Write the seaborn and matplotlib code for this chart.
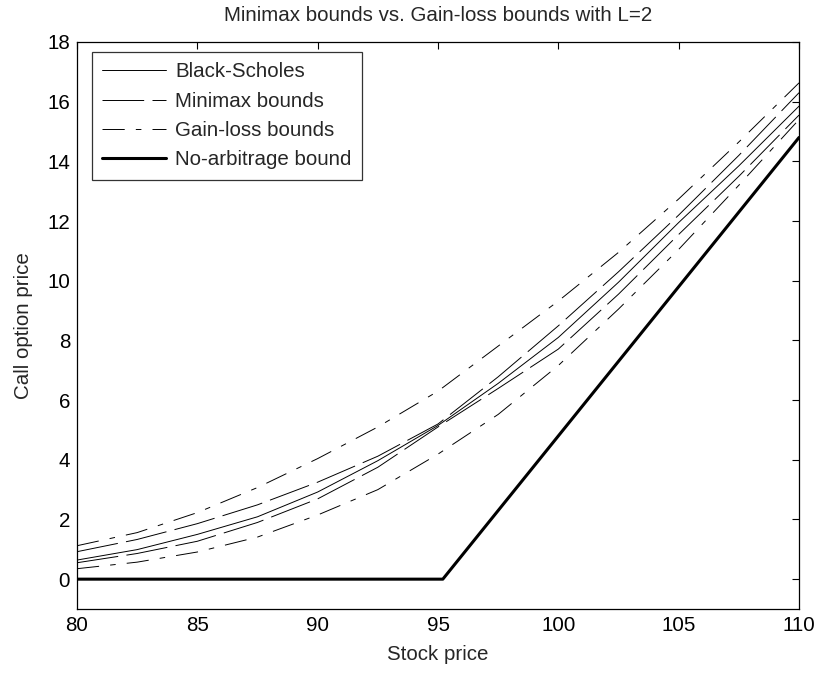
import matplotlib
matplotlib.use("Agg")
import matplotlib.pyplot as plt
import seaborn as sns
import pandas as pd

# Stock prices where values were read
stock = [80, 82.5, 85, 87.5, 90, 92.5, 95, 97.5, 100, 102.5, 105, 107.5, 110]

black_scholes = [0.64, 0.99, 1.50, 2.09, 2.92, 3.97, 5.15, 6.56, 8.10, 9.95, 11.95, 13.85, 15.85]
minimax_upper = [0.92, 1.33, 1.86, 2.49, 3.25, 4.12, 5.20, 6.78, 8.49, 10.30, 12.20, 14.20, 16.30]
minimax_lower = [0.55, 0.86, 1.27, 1.90, 2.69, 3.75, 5.10, 6.39, 7.71, 9.55, 11.55, 13.50, 15.55]
gainloss_upper = [1.12, 1.56, 2.23, 3.07, 4.04, 5.10, 6.30, 7.81, 9.32, 10.95, 12.74, 14.65, 16.63]
gainloss_lower = [0.35, 0.57, 0.91, 1.41, 2.15, 3.00, 4.19, 5.52, 7.16, 9.05, 11.05, 13.20, 15.40]

noarb_x = [80, 95.2, 110]
noarb_y = [0, 0, 14.8]

xticks = [80, 85, 90, 95, 100, 105, 110]
yticks = [0, 2, 4, 6, 8, 10, 12, 14, 16, 18]

sns.set_theme(style="white")
plt.rcParams['font.family'] = ['Liberation Sans', 'DejaVu Sans']
plt.rcParams['lines.scale_dashes'] = False

fig = plt.figure(figsize=(8.2, 6.73), dpi=100)
ax = fig.add_axes([0.0939, 0.0951, 0.8805, 0.8425])

df = pd.DataFrame({"S": stock, "bs": black_scholes, "mmu": minimax_upper,
                   "mml": minimax_lower, "glu": gainloss_upper, "gll": gainloss_lower})
dfn = pd.DataFrame({"S": noarb_x, "v": noarb_y})

mm_dash = (30, 6)
gl_dash = (16, 8, 4, 8)

FS = 14.8

sns.lineplot(data=df, x="S", y="bs", ax=ax, color="black", lw=0.7, label="Black-Scholes")
sns.lineplot(data=df, x="S", y="mmu", ax=ax, color="black", lw=0.7, label="Minimax bounds")
ax.lines[-1].set_dashes(mm_dash)
sns.lineplot(data=df, x="S", y="mml", ax=ax, color="black", lw=0.7, label="_nolegend_")
ax.lines[-1].set_dashes(mm_dash)
sns.lineplot(data=df, x="S", y="glu", ax=ax, color="black", lw=0.7, label="Gain-loss bounds")
ax.lines[-1].set_dashes(gl_dash)
sns.lineplot(data=df, x="S", y="gll", ax=ax, color="black", lw=0.7, label="_nolegend_")
ax.lines[-1].set_dashes(gl_dash)
sns.lineplot(data=dfn, x="S", y="v", ax=ax, color="black", lw=2.2, label="No-arbitrage bound")

ax.set_xlim(80, 110)
ax.set_ylim(-1, 18)
ax.set_xticks(xticks)
ax.set_yticks(yticks)
ax.tick_params(direction="in", length=5, width=0.8, top=True, right=True,
               labelsize=FS, colors="black", pad=5)
for s in ax.spines.values():
    s.set_color("black")
    s.set_linewidth(0.9)

ax.set_xlabel("Stock price", fontsize=FS, labelpad=7)
ax.set_ylabel("Call option price", fontsize=FS, labelpad=10)
ax.set_title("Minimax bounds vs. Gain-loss bounds with L=2", fontsize=FS, pad=15)

handles, labels = ax.get_legend_handles_labels()
leg = ax.legend(handles, labels, loc="upper left", fontsize=FS, frameon=True,
                fancybox=False, edgecolor="black", handlelength=3.1,
                borderpad=0.5, labelspacing=0.5, handletextpad=0.45,
                borderaxespad=0.0, bbox_to_anchor=(0.021, 0.982))
leg.get_frame().set_linewidth(0.9)

fig.savefig("out.png", dpi=100)
